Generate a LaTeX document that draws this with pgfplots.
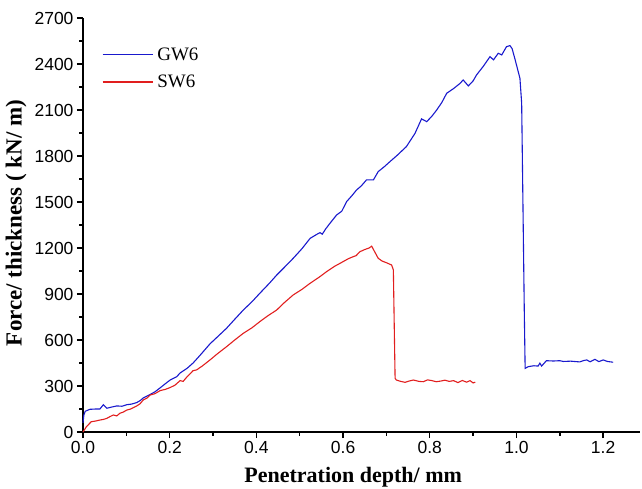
\documentclass[border=0pt]{standalone}
\usepackage{fontspec}
\setmainfont{Liberation Serif}
\newfontfamily\tickfont{Liberation Sans}
\usepackage{pgfplots}
\pgfplotsset{compat=1.18}
\definecolor{gwblue}{RGB}{25,25,205}
\definecolor{swred}{RGB}{225,30,30}
\begin{document}
\begin{tikzpicture}
\begin{axis}[
  scale only axis, width=557bp, height=414bp,
  xmin=0, xmax=1.285, ymin=0, ymax=2700,
  axis lines=left,
  axis line style={-, line width=1.6bp, black},
  xtick={0,0.2,0.4,0.6,0.8,1.0,1.2},
  ytick={0,300,600,900,1200,1500,1800,2100,2400,2700},
  minor x tick num=1, minor y tick num=1,
  tick align=outside,
  major tick length=6bp, minor tick length=3.5bp,
  every tick/.style={line width=1.4bp, black},
  scaled ticks=false,
  /pgf/number format/assume math mode=true,
  /pgf/number format/1000 sep={},
  xticklabel style={/pgf/number format/.cd, fixed, fixed zerofill, precision=1},
  tick label style={font=\tickfont\fontsize{17.5bp}{17.5bp}\selectfont},
  xlabel={Penetration depth/ mm},
  ylabel={Force/ thickness ( kN/ m)},
  xlabel style={font=\bfseries\fontsize{22bp}{22bp}\selectfont, at={(axis description cs:0.485,-0.1208)}, anchor=base},
  ylabel style={font=\bfseries\fontsize{23bp}{23bp}\selectfont, at={(axis description cs:-0.1203,0.505)}, anchor=center, rotate=0},
  legend style={at={(axis description cs:0.0341,0.9307)}, anchor=north west, draw=none, fill=none, inner sep=0pt, row sep=11bp, column sep=3bp, nodes={inner sep=1bp}, font=\fontsize{19bp}{19bp}\selectfont},
  legend cell align=left,
  legend image code/.code={\draw[#1] (0bp,0bp) -- (50bp,0bp);},
  clip=false,
]
\addplot[gwblue, line width=1.1bp] coordinates {
(0,60) (0.002,110) (0.005,135) (0.016,148) (0.030,150) (0.039,150) (0.047,178) (0.055,155)
(0.065,162) (0.078,170) (0.090,168) (0.101,178) (0.112,182) (0.124,192) (0.132,205) (0.139,222)
(0.155,245) (0.166,262) (0.178,288) (0.190,315) (0.201,339) (0.216,360) (0.224,385) (0.240,415)
(0.254,450) (0.270,500) (0.293,575) (0.310,620) (0.331,676) (0.350,735) (0.370,796) (0.390,850)
(0.408,905) (0.430,970) (0.447,1024) (0.465,1075) (0.485,1133) (0.505,1195) (0.524,1263) (0.540,1290)
(0.547,1300) (0.552,1290) (0.560,1325) (0.570,1362) (0.585,1415) (0.597,1440) (0.608,1502) (0.620,1540)
(0.631,1578) (0.642,1605) (0.654,1644) (0.670,1644) (0.681,1698) (0.695,1730) (0.708,1763) (0.725,1805)
(0.746,1861) (0.755,1900) (0.766,1948) (0.781,2042) (0.793,2024) (0.805,2060) (0.816,2100) (0.828,2150)
(0.839,2209) (0.855,2240) (0.870,2274) (0.877,2296) (0.889,2257) (0.900,2290) (0.908,2329) (0.923,2383)
(0.939,2448) (0.947,2427) (0.958,2470) (0.966,2459) (0.977,2513) (0.985,2520) (0.990,2500) (0.997,2427)
(1.008,2307) (1.012,2144) (1.014,1700) (1.016,1250) (1.018,800) (1.020,415) (1.027,426) (1.040,432)
(1.050,430) (1.054,449) (1.058,430) (1.069,465) (1.085,463) (1.100,465) (1.108,460) (1.125,462)
(1.146,457) (1.155,466) (1.162,470) (1.170,458) (1.181,474) (1.190,459) (1.200,470) (1.210,460) (1.223,455)
};
\addlegendentry{GW6}
\addplot[swred, line width=1.1bp] coordinates {
(0,0) (0.008,35) (0.019,67) (0.030,72) (0.039,78) (0.047,82) (0.055,89) (0.062,100) (0.070,111)
(0.078,105) (0.085,122) (0.093,130) (0.101,143) (0.110,150) (0.124,170) (0.132,185) (0.139,209)
(0.147,220) (0.155,241) (0.166,250) (0.178,270) (0.190,278) (0.201,290) (0.212,305) (0.224,335)
(0.231,330) (0.240,360) (0.254,400) (0.262,405) (0.275,430) (0.293,470) (0.310,510) (0.331,556)
(0.350,600) (0.370,644) (0.390,680) (0.408,720) (0.425,755) (0.447,796) (0.465,845) (0.485,894)
(0.505,930) (0.524,970) (0.545,1010) (0.562,1046) (0.580,1080) (0.600,1111) (0.612,1130) (0.624,1144)
(0.630,1150) (0.639,1176) (0.650,1190) (0.660,1200) (0.666,1212) (0.672,1180) (0.681,1133) (0.690,1115)
(0.700,1104) (0.712,1089) (0.716,1057) (0.718,700) (0.720,350) (0.723,339) (0.733,330) (0.743,324)
(0.752,332) (0.762,339) (0.775,330) (0.785,328) (0.795,340) (0.805,335) (0.815,328) (0.825,332)
(0.835,338) (0.845,330) (0.855,335) (0.865,322) (0.875,336) (0.885,325) (0.893,335) (0.900,320) (0.905,325)
};
\addlegendentry{SW6}
\end{axis}
\pgfresetboundingbox
\useasboundingbox (-83bp,-57bp) rectangle (559bp,432bp);
\end{tikzpicture}
\end{document}
